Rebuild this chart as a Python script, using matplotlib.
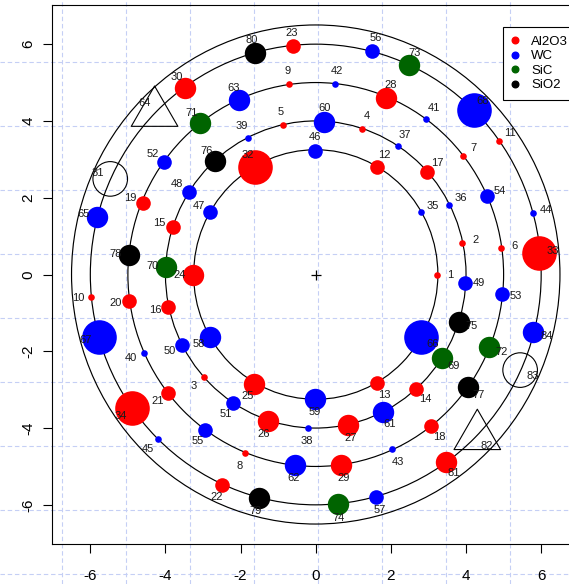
import numpy as np
import matplotlib
matplotlib.use("Agg")
import matplotlib.pyplot as plt
from matplotlib.lines import Line2D
from matplotlib.patches import Circle
from matplotlib.path import Path

plt.rcParams['font.family'] = ['Liberation Sans', 'DejaVu Sans']
plt.rcParams['axes.unicode_minus'] = False

# ---------------- data ----------------
labels = list(range(1, 85))
x = [3.23, 3.90, -2.98, 1.24, -0.86, 4.93, 3.92, -1.88, -0.70, -5.97, 4.88,
     1.64, 1.64, 2.67, -3.81, -3.92, 2.97, 3.07, -4.61, -4.96, -3.92, -2.49, -0.60,
     -3.26, -1.64, -1.26, 0.85, 1.86, 0.68, -3.49,
     -5.47, -1.63, 5.95, -4.89,
     2.80, 3.55, 2.18, -0.21, -1.81, -4.58, 2.93, 0.52, 2.03, 5.78, -4.21,
     -0.03, -2.81, -3.38, 3.98, -3.56, -2.19, -4.05, 4.97, 4.57, -2.94, 1.51, 1.60,
     -2.81, -0.03, 0.21, 1.80, -0.55, -2.03, -4.29, -5.82,
     2.80, -5.78, 4.20,
     3.36, -3.98, -3.09, 4.62, 2.47, 0.58,
     3.80, -2.67, 4.04, -4.98, -1.52, -1.61,
     3.46, 4.30, 5.44, 5.79]
y = [-0.01, 0.82, -2.68, 3.79, 3.89, 0.69, 3.09, -4.65, 4.96, -0.59, 3.48,
     2.80, -2.83, -2.98, 1.24, -0.85, 2.67, -3.95, 1.86, -0.69, -3.09, -5.48, 5.95,
     -0.01, -2.85, -3.82, -3.92, 4.61, -4.96, 4.86,
     2.49, 2.81, 0.57, -3.47,
     1.62, 1.82, 3.35, -3.99, 3.55, -2.04, 4.04, 4.95, -4.55, 1.59, -4.29,
     3.22, 1.62, 2.16, -0.21, -1.84, -3.35, 2.94, -0.52, 2.04, -4.05, 5.82, -5.79,
     -1.64, -3.24, 3.98, -3.57, -4.96, 4.54, 4.21, 1.49,
     -1.64, -1.62, 4.28,
     -2.18, 0.20, 3.94, -1.88, 5.46, -5.98,
     -1.24, 2.96, -2.94, 0.51, -5.81, 5.78,
     -4.88, -4.21, -2.49, -1.51]
material = (['Al2O3'] * 34 + ['WC'] * 34 + ['SiC'] * 6 + ['SiO2'] * 6
            + ['Al2O3', 'WC', 'Al2O3', 'WC'])
size_class = ([1] * 11 + [2] * 12 + [3] * 7 + [4] * 4 +          # 1-34
              [1] * 11 + [2] * 12 + [3] * 6 + [4, 3, 4, 4, 4] +  # 35-68
              [3] * 12 +                                         # 69-80
              [3, 4, 4, 3])                                      # 81-84
# filled / open circle / open triangle
shape = ['filled'] * 84
shape[31 - 1] = 'circle'
shape[83 - 1] = 'circle'
shape[64 - 1] = 'triangle'
shape[82 - 1] = 'triangle'

ring_radii = [3.25, 4.0, 5.0, 6.0, 6.5]
center = (0.0, 0.0)
legend_names = ['Al2O3', 'WC', 'SiC', 'SiO2']

# ---------------- style ----------------
colors = {'Al2O3': '#ff0000', 'WC': '#0000ff', 'SiC': '#006400', 'SiO2': '#000000'}
radius_px = {1: 3.3, 2: 7.3, 3: 10.7, 4: 17.3}
W, H, DPI = 569, 584, 100
PT = 72.0 / DPI  # points per pixel

fig = plt.figure(figsize=(W / DPI, H / DPI), dpi=DPI, facecolor='white')

# background dashed grid across the whole device
gcol = '#c5cff5'
for gx in np.arange(62, W + 1, 64):
    fig.add_artist(Line2D([gx / W, gx / W], [0, 1], transform=fig.transFigure,
                          color=gcol, lw=0.8, ls=(0, (4, 2.5)), zorder=-5))
for gy in np.arange(62, H + 1, 64):
    fig.add_artist(Line2D([0, 1], [1 - gy / H, 1 - gy / H], transform=fig.transFigure,
                          color=gcol, lw=0.8, ls=(0, (4, 2.5)), zorder=-5))

left, right, top, bottom = 52, 579.5, 5, 544
ax = fig.add_axes([left / W, 1 - bottom / H, (right - left) / W, (bottom - top) / H])
ax.patch.set_visible(False)
ax.set_xlim(-7.02, 7.02)
ax.set_ylim(-7.02, 7.02)

for r in ring_radii:
    ax.add_patch(Circle(center, r, fill=False, ec='black', lw=0.85, zorder=1))

ax.plot([center[0]], [center[1]], marker='+', ms=10 * PT * 1.05, mew=0.9, color='black', zorder=2)

tri_path = Path([(0, 1), (-np.sqrt(3) / 2, -0.5), (np.sqrt(3) / 2, -0.5), (0, 1)],
                [Path.MOVETO, Path.LINETO, Path.LINETO, Path.CLOSEPOLY])

for xi, yi, m, sc, sh in zip(x, y, material, size_class, shape):
    rp = radius_px[sc]
    if sh == 'filled':
        ax.scatter([xi], [yi], s=(2 * rp * PT) ** 2, c=colors[m], linewidths=0, zorder=3)
    elif sh == 'circle':
        ax.scatter([xi], [yi], s=(2 * rp * PT) ** 2, facecolors='none', edgecolors='black',
                   linewidths=0.8, zorder=3)
    else:
        rt = 1.555 * rp
        ax.scatter([xi], [yi], s=(2 * rt * PT) ** 2, marker=tri_path, facecolors='none',
                   edgecolors='black', linewidths=0.8, zorder=3)

off_px = 13.5
for lab, xi, yi in zip(labels, x, y):
    th = np.arctan2(yi, xi)
    ax.annotate(str(lab), (xi, yi), xytext=(off_px * PT * np.cos(th), off_px * PT * np.sin(th)),
                textcoords='offset points', ha='center', va='center',
                fontsize=8, color='#1a1a1a', zorder=4)

ax.set_xticks(range(-6, 7, 2))
ax.set_yticks(range(-6, 7, 2))
ax.tick_params(axis='both', direction='out', length=9 * PT, width=0.8, labelsize=11, colors='black')
ax.tick_params(axis='x', pad=11.5)
ax.tick_params(axis='y', pad=5.5)
for t in ax.get_yticklabels():
    t.set_rotation(90)
    t.set_va('center')
for s in ax.spines.values():
    s.set_linewidth(0.8)
    s.set_color('black')

handles = [Line2D([], [], ls='none', marker='o', ms=2 * 3.3 * PT, mfc=colors[n], mec=colors[n])
           for n in legend_names]
leg = ax.legend(handles, legend_names, loc='upper left', bbox_to_anchor=(503 / W, 1 - 27 / H),
                bbox_transform=fig.transFigure, borderaxespad=0, borderpad=0.65,
                handlelength=0.45, handletextpad=1.05, labelspacing=0.17, fontsize=9.5,
                fancybox=False, framealpha=1, edgecolor='black', facecolor='white')
leg.get_frame().set_linewidth(0.8)
leg.set_zorder(10)

fig.savefig('out.png', dpi=DPI)
